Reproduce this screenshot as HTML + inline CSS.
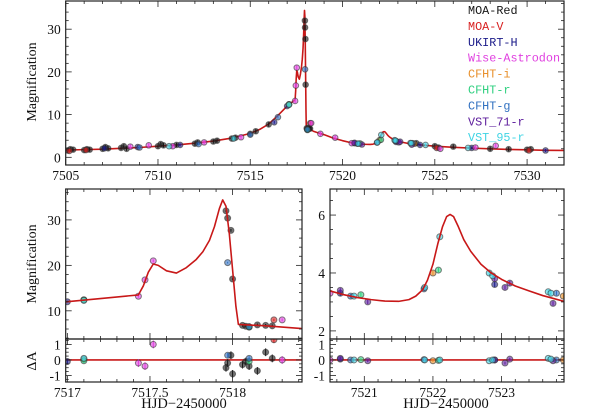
<!DOCTYPE html>
<html><head><meta charset="utf-8"><style>
html,body{margin:0;padding:0;background:#fff;}
svg{display:block;}
text{font-family:"Liberation Serif",serif;fill:#111;}
.leg{font-family:"Liberation Mono",monospace;font-size:11.8px;}
</style></head><body>
<svg id="chart" width="600" height="413" viewBox="0 0 600 413" xmlns="http://www.w3.org/2000/svg"></svg>
<script>
// ---- data ----
const modelT = [7505,7506,7507,7508,7509,7510,7511,7512,7513,7514,7515,7515.5,7516,7516.5,7517,7517.2,7517.43,7517.46,7517.49,7517.52,7517.55,7517.6,7517.66,7517.72,7517.78,7517.82,7517.86,7517.89,7517.92,7517.94,7517.96,7517.98,7518.0,7518.02,7518.035,7518.2,7518.42,7518.7,7519,7519.5,7520,7520.5,7520.7,7520.9,7521.1,7521.3,7521.5,7521.65,7521.75,7521.85,7521.92,7522.0,7522.07,7522.14,7522.2,7522.25,7522.3,7522.37,7522.45,7522.55,7522.7,7522.85,7523.0,7523.2,7523.4,7523.6,7523.91,7524.5,7525,7526,7527,7528,7529,7530,7531,7532];
const modelA = [1.7,1.8,1.9,2.1,2.3,2.6,2.9,3.3,3.8,4.5,5.6,6.5,7.8,9.8,12.0,12.7,13.5,15.5,18.5,20.3,20.0,18.8,18.3,19.5,21.3,23.0,25.5,28.5,32.5,34.4,33.0,27.0,19.0,11.0,7.0,6.7,6.1,5.7,5.3,4.5,3.9,3.38,3.25,3.15,3.08,3.03,3.02,3.08,3.2,3.42,3.75,4.3,5.0,5.6,5.95,6.02,5.95,5.6,5.15,4.75,4.3,4.0,3.78,3.55,3.38,3.22,3.02,2.8,2.6,2.35,2.15,2.0,1.85,1.75,1.65,1.6];

const instNames = ["MOA-Red","MOA-V","UKIRT-H","Wise-Astrodon","CFHT-i","CFHT-r","CFHT-g","VST_71-r","VST_95-r"];
const instColors = ["#151515","#d82020","#1c1c8a","#e040e0","#e8902c","#30d080","#3070c0","#5c1c9c","#40d4e4"];

const tMOARed = [7505.1,7505.25,7505.4,7506.0,7506.15,7506.3,7507.0,7507.15,7507.3,7508.0,7508.15,7508.3,7510.0,7510.15,7510.3,7511.0,7512.0,7512.15,7513.0,7513.2,7514.0,7514.2,7515.0,7515.3,7516.0,7517.96,7517.97,7517.99,7518.0,7518.06,7518.08,7518.1,7518.15,7518.2,7518.24,7524.0,7525.0,7525.2,7526.0,7528.0,7529.0,7530.0,7530.2];
const aMOARed = [1.6,1.9,1.8,1.7,1.9,1.8,2.0,2.4,2.1,2.2,2.6,2.0,2.6,3.1,2.8,2.9,3.2,3.5,3.7,3.9,4.4,4.6,5.5,6.1,7.7,32.0,30.4,27.7,17.0,6.8,6.6,6.5,6.9,6.8,6.7,3.3,2.6,2.3,2.5,2.0,1.9,1.8,1.9];
const rMOARed = [0,0,0,0,0,0,0,0,0,0,0,0,0,0,0,0,0,0,0,0,0,0,0,0,0,-0.5,-0.2,0.3,-0.9,-0.3,-0.1,-0.4,-0.7,0.5,0.1,0,0,0,0,0,0,0,0];
const tMOAV = [7505.2,7506.1,7518.25,7525.1,7530.1];
const aMOAV = [1.5,1.7,8.0,2.2,1.6];
const rMOAV = [0,0,1.3,0,0];
const tUKIRT = [7507.1,7508.9,7511.2,7516.3,7517.0,7520.65,7522.9,7524.2,7527.0,7531.0];
const aUKIRT = [2.1,2.4,2.9,8.2,12.0,3.3,3.6,2.9,2.2,1.6];
const rUKIRT = [0,0,0,0,-0.1,0.05,0,0,0,0];
const tWise = [7508.5,7509.5,7510.8,7512.5,7514.5,7517.43,7517.47,7517.52,7518.3,7518.8,7519.6,7520.5,7525.3,7527.2,7528.3];
const aWise = [2.5,2.8,2.6,3.5,4.7,13.2,16.8,21.0,8.0,5.5,4.6,3.3,2.0,2.3,2.7];
const rWise = [0,0,0,0,0,-0.2,-0.4,1.0,0,0,0,0,0,0,0];
const tCFHTi = [7517.1,7522.0,7523.9];
const aCFHTi = [12.4,4.0,3.2];
const rCFHTi = [0.05,-0.05,0];
const tCFHTr = [7517.1,7518.1,7520.95,7522.08];
const aCFHTr = [12.4,6.4,3.25,4.1];
const rCFHTr = [-0.05,-0.1,0.02,-0.03];
const tCFHTg = [7509.0,7512.2,7515.0,7516.5,7517.97,7518.1,7520.8,7521.87,7523.8];
const aCFHTg = [2.3,3.1,5.3,9.4,20.6,6.5,3.2,3.45,3.3];
const rCFHTg = [0,0,0,0,0.3,0.1,0,0.02,0];
const tVST71 = [7520.65,7521.05,7522.9,7523.05,7523.12,7523.75];
const aVST71 = [3.4,3.0,3.8,3.5,3.65,2.95];
const rVST71 = [0.1,-0.05,0,-0.2,0.05,-0.05];
const tVST95 = [7510.6,7514.1,7517.1,7520.85,7521.88,7522.1,7522.82,7522.87,7523.68,7523.72,7524.5,7526.8];
const aVST95 = [2.6,4.4,12.3,3.2,3.5,5.25,4.0,3.9,3.35,3.3,2.9,2.2];
const rVST95 = [0,0,0.1,0,0,0,-0.05,0,0.1,0.05,0,0];

const series = [[tMOARed,aMOARed,rMOARed],[tMOAV,aMOAV,rMOAV],[tUKIRT,aUKIRT,rUKIRT],[tWise,aWise,rWise],[tCFHTi,aCFHTi,rCFHTi],[tCFHTr,aCFHTr,rCFHTr],[tCFHTg,aCFHTg,rCFHTg],[tVST71,aVST71,rVST71],[tVST95,aVST95,rVST95]];
const errs = [0.5,0.4,0.35,0.5,0.3,0.3,0.3,0.3,0.3];

const topXTicks = [7505,7510,7515,7520,7525,7530];
const topYTicks = [0,10,20,30];
const blXTicks = [7517,7517.5,7518];
const blYTicks = [10,20,30];
const brXTicks = [7521,7522,7523];
const brYTicks = [2,4,6];
const resYTicks = [-1,0,1];

// ---- drawing ----
const NS = "http://www.w3.org/2000/svg";
const svgEl = document.getElementById("chart");
function mk(tag, attrs, parent){const e=document.createElementNS(NS,tag);for(const k in attrs)e.setAttribute(k,attrs[k]);(parent||svgEl).appendChild(e);return e;}
function lin(d0,d1,r0,r1){return v=>r0+(v-d0)*(r1-r0)/(d1-d0);}

function panel(name,x0,x1,y0,y1,xd,yd,xMaj,xMin,yMaj,yMin,xLabels,yLabels,xFmt){
  const g = mk("g",{});
  
  
  const sx=lin(xd[0],xd[1],x0,x1), sy=lin(yd[0],yd[1],y1,y0);
  const clipId=name+"-clip";
  const cp=mk("clipPath",{id:clipId},g); mk("rect",{x:x0,y:y0,width:x1-x0,height:y1-y0},cp);
  const plot=mk("g",{"clip-path":"url(#"+clipId+")"},g);
  const tk=mk("g",{stroke:"#222","stroke-width":0.8},g);
  const nx0=Math.ceil(xd[0]/xMin-1e-6), nx1=Math.floor(xd[1]/xMin+1e-6);
  for(let n=nx0;n<=nx1;n++){
    const v=n*xMin; const isMaj=Math.abs(v/xMaj-Math.round(v/xMaj))<1e-6; const L=isMaj?6:3; const X=sx(v);
    mk("line",{x1:X,x2:X,y1:y1,y2:y1-L},tk); mk("line",{x1:X,x2:X,y1:y0,y2:y0+L},tk);
  }
  const ny0=Math.ceil(yd[0]/yMin-1e-6), ny1=Math.floor(yd[1]/yMin+1e-6);
  for(let n=ny0;n<=ny1;n++){
    const v=n*yMin; const isMaj=Math.abs(v/yMaj-Math.round(v/yMaj))<1e-6; const L=isMaj?6:3; const Y=sy(v);
    mk("line",{y1:Y,y2:Y,x1:x0,x2:x0+L},tk); mk("line",{y1:Y,y2:Y,x1:x1,x2:x1-L},tk);
  }
  if(xLabels){ xLabels.forEach(v=>{const t=mk("text",{x:sx(v),y:y1+15,"text-anchor":"middle","font-size":"13.5"},g);t.textContent=xFmt?xFmt(v):v;
    
    });}
  if(yLabels){ yLabels.forEach(v=>{const t=mk("text",{x:x0-5,y:sy(v)+5,"text-anchor":"end","font-size":"13.5"},g);t.textContent=v;
    
    });}
  mk("rect",{x:x0,y:y0,width:x1-x0,height:y1-y0,fill:"none",stroke:"#222","stroke-width":1.2},g);
  return {sx,sy,plot,g};
}

function drawModel(p,resid){
  const path=mk("path",{fill:"none",stroke:"#c81818","stroke-width":1.6,"stroke-linejoin":"round"},p.plot);
  
  
  if(resid){ path.setAttribute("d","M"+p.sx(7500)+","+p.sy(0)+"L"+p.sx(7540)+","+p.sy(0)); return; }
  let d=""; modelT.forEach((t,i)=>{d+=(i?"L":"M")+p.sx(t).toFixed(2)+","+p.sy(modelA[i]).toFixed(2);}); path.setAttribute("d",d);
}
function drawPoints(p,mode,errScale,r){
  series.forEach((s,si)=>{
    const col=instColors[si];
    const g=mk("g",{},p.plot);
    
    
    s[0].forEach((t,i)=>{
      const v = mode==="res"? s[2][i] : s[1][i];
      const X=p.sx(t), Y=p.sy(v), e=errs[si]*errScale;
      mk("line",{x1:X,x2:X,y1:p.sy(v-e),y2:p.sy(v+e),stroke:col,"stroke-width":1},g);
      const c=mk("circle",{cx:X,cy:Y,r:r,fill:col,"fill-opacity":0.6,stroke:"#333","stroke-opacity":0.6,"stroke-width":1},g);
      
      
    });
  });
}

const topPanel=panel("top-panel",65.7,564,1,165,[7505,7532.0],[-1.8,36.6],5,1,10,2,topXTicks,topYTicks);
drawModel(topPanel); drawPoints(topPanel,"A",1,2.8);
const blPanel=panel("zoom-peak-panel",65.7,302,189,339,[7516.99,7518.42],[3.8,36.8],0.5,0.1,10,2,null,blYTicks);
drawPoints(blPanel,"A",0.6,3); drawModel(blPanel);
const blrPanel=panel("zoom-peak-residual-panel",65.7,302,339,382,[7516.99,7518.42],[-1.42,1.35],0.5,0.1,1,0.25,blXTicks,resYTicks,v=>String(v));
drawModel(blrPanel,true); drawPoints(blrPanel,"res",0.5,3);
const brPanel=panel("zoom-bump-panel",330,564,189,339,[7520.5,7523.91],[1.72,6.9],1,0.2,2,0.5,null,brYTicks);
drawPoints(brPanel,"A",0.25,3); drawModel(brPanel);
const brrPanel=panel("zoom-bump-residual-panel",330,564,339,382,[7520.5,7523.91],[-1.42,1.35],1,0.2,1,0.25,brXTicks,resYTicks);
drawModel(brrPanel,true); drawPoints(brrPanel,"res",0.3,3);

function label(txt,x,y,rot,name,size){const t=mk("text",{x:x,y:y,"text-anchor":"middle","font-size":size||14,transform:rot?"rotate(-90 "+x+" "+y+")":""});t.textContent=txt;
  
  }
label("Magnification",36,82,true,"top-y-axis-title");
label("Magnification",36,264,true,"zoom-y-axis-title");
label("\u0394A",36,361,true,"residual-y-axis-title");
label("HJD\u22122450000",184,408,false,"left-x-axis-title",14.5);
label("HJD\u22122450000",446,408,false,"right-x-axis-title",14.5);

const lg=mk("g",{});


instNames.forEach((n,i)=>{const t=mk("text",{x:468,y:14+i*15.9,class:"leg",style:"fill:"+instColors[i]},lg);t.textContent=n;
  
  });
</script>
</body></html>
